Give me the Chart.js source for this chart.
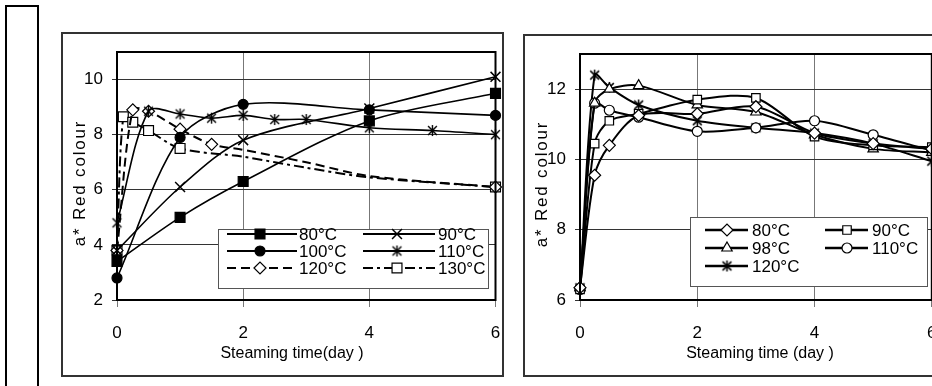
<!DOCTYPE html>
<html>
<head>
<meta charset="utf-8">
<script src="https://cdn.jsdelivr.net/npm/chart.js@4/dist/chart.umd.min.js"></script>
<style>
  html, body { margin: 0; padding: 0; background: #fff; overflow: hidden; width: 932px; height: 386px; }
  .frame { position: absolute; box-sizing: border-box; border: 2px solid #333; }
  canvas { position: absolute; }
</style>
</head>
<body>
<div class="frame" style="left:5px;top:5px;width:34px;height:420px;border-color:#000"></div>
<div class="frame" style="left:61px;top:32px;width:443px;height:345px"></div>
<div class="frame" style="left:523px;top:34px;width:416px;height:343px"></div>
<canvas id="leftChart" width="443" height="345" style="left:61px;top:32px"></canvas>
<canvas id="rightChart" width="416" height="343" style="left:523px;top:34px"></canvas>
<script>
// Dados do painel esquerdo (dias de vaporização / a*)
const leftLabels = ['80°C', '90°C', '100°C', '110°C', '120°C', '130°C'];
const leftDays80 = [0, 1, 2, 4, 6];
const leftA80 = [3.4, 5.0, 6.3, 8.5, 9.5];
const leftDays90 = [0, 1, 2, 4, 6];
const leftA90 = [3.8, 6.1, 7.8, 8.95, 10.1];
const leftDays100 = [0, 1, 2, 4, 6];
const leftA100 = [2.8, 7.9, 9.1, 8.9, 8.7];
const leftDays110 = [0, 0.5, 1, 1.5, 2, 2.5, 3, 4, 5, 6];
const leftA110 = [4.8, 8.85, 8.75, 8.6, 8.7, 8.55, 8.55, 8.25, 8.15, 8.0];
const leftDays120 = [0, 0.25, 0.5, 1, 1.5, 2, 3, 4, 6];
const leftA120 = [3.8, 8.9, 8.85, 8.2, 7.65, 7.45, 7.0, 6.5, 6.1];
const leftDays130 = [0, 0.1, 0.25, 0.5, 1, 2, 3, 4, 6];
const leftA130 = [3.8, 8.65, 8.45, 8.15, 7.5, 7.2, 6.8, 6.45, 6.1];
const leftYTicks = [2, 4, 6, 8, 10];

// Dados do painel direito
const rightLabels = ['80°C', '90°C', '98°C', '110°C', '120°C'];
const rightDays = [0, 0.25, 0.5, 1, 2, 3, 4, 5, 6];
const rightA80 = [6.35, 9.55, 10.4, 11.25, 11.3, 11.5, 10.75, 10.45, 10.3];
const rightA90 = [6.3, 10.45, 11.1, 11.3, 11.7, 11.75, 10.65, 10.4, 10.35];
const rightA98 = [6.35, 11.6, 12.0, 12.1, 11.55, 11.35, 10.7, 10.3, 10.2];
const rightA110 = [6.3, 11.6, 11.4, 11.2, 10.8, 10.9, 11.1, 10.7, 10.25];
const rightA120 = [6.35, 12.4, 12.05, 11.55, 11.1, 10.9, 10.75, 10.45, 9.95];
const rightYTicks = [6, 8, 10, 12];
const xTicks = [0, 2, 4, 6];

const FONT = "'Liberation Sans', Arial, sans-serif";

// Monta pares {x, y}
function pts(days, vals) {
    return days.map((d, i) => ({ x: d, y: vals[i] }));
}

// Marcador asterisco (X + barra vertical), como no Excel
function asterisk(size, lw) {
    const c = document.createElement('canvas');
    c.width = c.height = size;
    const g = c.getContext('2d');
    g.strokeStyle = '#000';
    g.lineWidth = lw;
    const m = size / 2, r = size / 2 - 1, d = r * 0.8;
    g.beginPath();
    g.moveTo(m - d, m - d); g.lineTo(m + d, m + d);
    g.moveTo(m + d, m - d); g.lineTo(m - d, m + d);
    g.moveTo(m, m - r); g.lineTo(m, m + r);
    g.stroke();
    return c;
}

function series(label, data, style, radius, fill, extra) {
    return Object.assign({
        label: label,
        data: data,
        borderColor: '#000',
        borderWidth: 1.6,
        pointStyle: style,
        pointRadius: radius,
        markerRadius: radius,
        pointBorderColor: '#000',
        pointBackgroundColor: fill,
        pointBorderWidth: 1.2,
        tension: 0.3,
        clip: 12,
        fill: false
    }, extra || {});
}

// Só mostra marcador nos índices indicados
function onlyAt(idx, r) {
    return c => idx.includes(c.dataIndex) ? r : 0;
}

// Plugin: borda da área, legenda interna e títulos dos eixos
const decorPlugin = {
    id: 'decor',
    afterDraw(chart, args, opts) {
        const ctx = chart.ctx, a = chart.chartArea;
        ctx.save();
        ctx.strokeStyle = '#000';
        ctx.lineWidth = 2;
        ctx.strokeRect(a.left, a.top, a.right - a.left, a.bottom - a.top);

        // legenda
        const L = opts.legend;
        ctx.fillStyle = '#fff';
        ctx.fillRect(L.box[0], L.box[1], L.box[2], L.box[3]);
        ctx.strokeStyle = '#555';
        ctx.lineWidth = 1;
        ctx.strokeRect(L.box[0] + 0.5, L.box[1] + 0.5, L.box[2], L.box[3]);
        chart.data.datasets.forEach((ds, i) => {
            const col = L.cols[i % 2], y = L.rows[Math.floor(i / 2)];
            ctx.strokeStyle = '#000';
            ctx.lineWidth = L.lineWidth;
            ctx.setLineDash(ds.borderDash || []);
            ctx.beginPath();
            ctx.moveTo(col.x1, y);
            ctx.lineTo(col.x2, y);
            ctx.stroke();
            ctx.setLineDash([]);
            ctx.fillStyle = ds.pointBackgroundColor;
            ctx.lineWidth = ds.pointBorderWidth;
            if (Chart.helpers && Chart.helpers.drawPoint) {
                Chart.helpers.drawPoint(ctx, {
                    pointStyle: ds.pointStyle, radius: ds.markerRadius,
                    rotation: 0, borderWidth: ds.pointBorderWidth
                }, col.mx, y);
            }
            ctx.fillStyle = '#000';
            ctx.font = '17px ' + FONT;
            ctx.textAlign = 'left';
            ctx.textBaseline = 'middle';
            ctx.fillText(ds.label, col.tx, y + 1);
        });

        // títulos dos eixos
        ctx.fillStyle = '#000';
        ctx.font = '16px ' + FONT;
        ctx.textAlign = 'center';
        ctx.textBaseline = 'middle';
        ctx.fillText(opts.xTitle.text, opts.xTitle.x, opts.xTitle.y);
        ctx.save();
        ctx.translate(opts.yTitle.x, opts.yTitle.y);
        ctx.rotate(-Math.PI / 2);
        ctx.font = '17px ' + FONT;
        if ('letterSpacing' in ctx) ctx.letterSpacing = '1.8px';
        ctx.fillText(opts.yTitle.text, 0, 0);
        ctx.restore();
        ctx.restore();
    }
};

function makeOptions(yMin, yMax, yWidth, decor) {
    return {
        responsive: false,
        animation: false,
        layout: { padding: { top: 20, right: 6, left: 0, bottom: 0 } },
        plugins: {
            legend: { display: false },
            tooltip: { enabled: false },
            decor: decor
        },
        scales: {
            x: {
                type: 'linear', min: 0, max: 6,
                afterBuildTicks: s => { s.ticks = xTicks.map(v => ({ value: v })); },
                afterFit: s => { s.height = 77; s.paddingLeft = 0; s.paddingRight = 0; },
                ticks: { color: '#000', font: { family: FONT, size: 17 }, padding: 16, maxRotation: 0 },
                grid: { color: '#777', lineWidth: 1, tickLength: 7 },
                border: { color: '#000', width: 2 }
            },
            y: {
                min: yMin, max: yMax,
                afterBuildTicks: s => { s.ticks = (yMin === 2 ? leftYTicks : rightYTicks).map(v => ({ value: v })); },
                afterFit: s => { s.width = yWidth; s.paddingTop = 0; s.paddingBottom = 0; },
                ticks: { color: '#000', font: { family: FONT, size: 17 }, padding: 9 },
                grid: { color: '#333', lineWidth: 1, tickLength: 5 },
                border: { color: '#000', width: 2 }
            }
        }
    };
}

// Painel esquerdo
const ast = asterisk(13, 1.4);
const leftSets = [
    series(leftLabels[0], pts(leftDays80, leftA80), 'rect', 7, '#000'),
    series(leftLabels[1], pts(leftDays90, leftA90), 'crossRot', 7, '#000', { pointBorderWidth: 1.5 }),
    series(leftLabels[2], pts(leftDays100, leftA100), 'circle', 5, '#000'),
    series(leftLabels[3], pts(leftDays110, leftA110), ast, 6, '#000'),
    series(leftLabels[4], pts(leftDays120, leftA120), 'rectRot', 6, '#fff',
        { borderDash: [9, 5], borderWidth: 2, pointRadius: onlyAt([0, 1, 2, 3, 4, 8], 6) }),
    series(leftLabels[5], pts(leftDays130, leftA130), 'rect', 7, '#fff',
        { borderDash: [10, 4, 3, 4], borderWidth: 2, pointRadius: onlyAt([0, 1, 2, 3, 4, 8], 7) })
];
new Chart(document.getElementById('leftChart'), {
    type: 'line',
    data: { datasets: leftSets },
    options: makeOptions(2, 11, 56, {
        legend: {
            box: [157, 197, 270, 59], rows: [202, 219, 236], lineWidth: 2,
            cols: [{ x1: 166, x2: 236, mx: 199, tx: 238 }, { x1: 302, x2: 374, mx: 336, tx: 377 }]
        },
        xTitle: { text: 'Steaming time(day )', x: 231, y: 322 },
        yTitle: { text: 'a* Red colour', x: 19, y: 151 }
    }),
    plugins: [decorPlugin]
});

// Painel direito
const ast2 = asterisk(13, 1.5);
const rightSets = [
    series(rightLabels[0], pts(rightDays, rightA80), 'rectRot', 6, '#fff', { borderWidth: 2 }),
    series(rightLabels[1], pts(rightDays, rightA90), 'rect', 6, '#fff', { borderWidth: 2 }),
    series(rightLabels[2], pts(rightDays, rightA98), 'triangle', 6, '#fff', { borderWidth: 2 }),
    series(rightLabels[3], pts(rightDays, rightA110), 'circle', 5, '#fff', { borderWidth: 2 }),
    series(rightLabels[4], pts(rightDays, rightA120), ast2, 6, '#000', { borderWidth: 2 })
];
new Chart(document.getElementById('rightChart'), {
    type: 'line',
    data: { datasets: rightSets },
    options: makeOptions(6, 13, 57, {
        legend: {
            box: [167, 183, 237, 69], rows: [196, 214, 232], lineWidth: 2.5,
            cols: [{ x1: 182, x2: 225, mx: 204, tx: 229 }, { x1: 302, x2: 345, mx: 324, tx: 349 }]
        },
        xTitle: { text: 'Steaming time (day )', x: 237, y: 320 },
        yTitle: { text: 'a* Red colour', x: 19, y: 150 }
    }),
    plugins: [decorPlugin]
});
</script>
</body>
</html>
